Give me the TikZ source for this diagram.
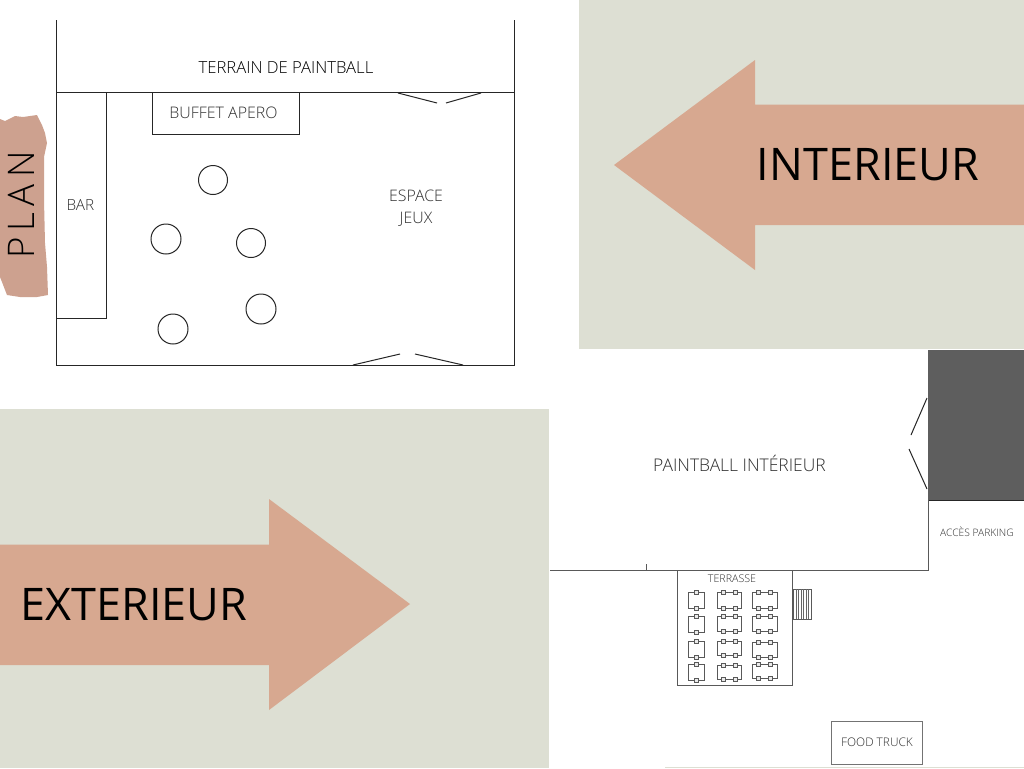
\documentclass[tikz,border=0pt]{standalone}
\usepackage{fontspec}
\setmainfont{Open Sans Light}
\newfontfamily\planfont[LetterSpace=17]{Open Sans Light}
\newfontfamily\bigfont{Open Sans}
\definecolor{sage}{HTML}{DDDFD3}
\definecolor{salmon}{HTML}{D7A890}
\definecolor{brush}{HTML}{CDA18F}
\definecolor{darkblock}{HTML}{5E5E5E}
\definecolor{inkgray}{HTML}{303030}
\tikzset{
  x=0.75pt,y=-0.75pt,
  wall/.style={draw=black!85,line width=0.75pt},
  thinwall/.style={draw=black!65,line width=0.6pt},
  lbl/.style={inner sep=0pt,text=inkgray},
  big/.style={inner sep=0pt,text=black},
  tablebox/.style={draw=black!65,line width=0.5pt,fill=white},
  chair/.style={draw=black!65,line width=0.45pt,fill=black!8},
}
\newcommand{\tabletwo}[4]{% x1 x2 y1 y2
  \draw[tablebox] (#1,#3) rectangle (#2,#4);
  \draw[chair] ({(#1+#2)/2-8},#3-2) rectangle ++(4,4);
  \draw[chair] ({(#1+#2)/2+4},#3-2) rectangle ++(4,4);
  \draw[chair] ({(#1+#2)/2-8},#4-2) rectangle ++(4,4);
  \draw[chair] ({(#1+#2)/2+4},#4-2) rectangle ++(4,4);
}
\newcommand{\tableone}[4]{%
  \draw[tablebox] (#1,#3) rectangle (#2,#4);
  \draw[chair] ({(#1+#2)/2-2},#3-2) rectangle ++(4,4);
  \draw[chair] ({(#1+#2)/2-2},#4-2) rectangle ++(4,4);
}
\begin{document}
\begin{tikzpicture}
\useasboundingbox (0,0) rectangle (1024,768);
\fill[white] (0,0) rectangle (1024,768);
% green panels
\fill[sage] (579,0) rectangle (1024,349);
\fill[sage] (0,409) rectangle (548.5,768);
\fill[sage] (665,767) rectangle (1024,768);
% arrows
\fill[salmon] (614,165) -- (755,60) -- (755,104.5) -- (1024,104.5) -- (1024,225) -- (755,225) -- (755,270) -- cycle;
\fill[salmon] (0,544.5) -- (269,544.5) -- (269,499) -- (410,604) -- (269,710) -- (269,665) -- (0,665) -- cycle;
\node[big,font=\bigfont\fontsize{33.7}{33.7}\selectfont] (interieur) at (868,165) {INTERIEUR};
\node[big,font=\bigfont\fontsize{33.7}{33.7}\selectfont] (exterieur) at (134,605) {EXTERIEUR};
% plan brush
\fill[brush] (0,119) -- (5,121) -- (15,116) -- (23,117) -- (37,115) -- (42,125) -- (45,133) -- (47,143) -- (44,157) -- (44,200) -- (45,243) -- (47,267) -- (48,295) -- (37,297) -- (20,297) -- (7,295) -- (2,282) -- (0,277) -- cycle;
\node[big,rotate=90,font=\planfont\fontsize{27.5}{27.5}\selectfont] (plan) at (21,205) {PLAN};
% plan walls
\draw[wall] (56,20) -- (56,365) -- (514,365) -- (514,20);
\draw[wall] (56,92) -- (514,92);
\draw[wall] (56,92) rectangle (106,318);
\draw[wall] (152,92) rectangle (299,134);
\foreach \cx/\cy/\r [count=\i] in {213/180/14.5,166/239/15,251/243/14.5,261/309/15,173/329/15}
  \draw[wall] (\cx,\cy) circle (\r);
\draw[wall] (398,93) -- (437,103);
\draw[wall] (481,93) -- (446,103);
\draw[wall] (353,365) -- (400,354);
\draw[wall] (415,354) -- (463,365);
\node[lbl,text=black,font=\fontsize{12.5}{12.5}\selectfont] (terrain) at (286,67.5) {TERRAIN DE PAINTBALL};
\node[lbl,font=\fontsize{11.95}{11.95}\selectfont] (buffet) at (223.5,113) {BUFFET APERO};
\node[lbl,font=\fontsize{11.5}{11.5}\selectfont] (bar) at (80.5,205) {BAR};
\node[lbl,align=center,font=\fontsize{11.9}{16.5}\selectfont] (jeux) at (416,208) {ESPACE\\JEUX};
% paintball interieur
\fill[darkblock] (928,350) rectangle (1024,500);
\draw[wall] (928,500) -- (1024,500);
\draw[thinwall] (550,570) -- (928,570) -- (928,500);
\draw[thinwall] (646,564) -- (646,570);
\draw[wall] (927,398) -- (911,435);
\draw[wall] (909,449) -- (927,489);
\node[lbl,font=\fontsize{13.1}{13.1}\selectfont] (paintball) at (739.5,463) {PAINTBALL INTÉRIEUR};
\node[lbl,font=\fontsize{7.7}{7.7}\selectfont] (parking) at (977,531.5) {ACCÈS PARKING};
% terrasse
\draw[thinwall] (677,570) -- (677,685) -- (792,685) -- (792,570);
\node[lbl,font=\fontsize{8}{8}\selectfont] (terrasse) at (732,579) {TERRASSE};
\tableone{688}{704}{592}{608}
\tableone{688}{704}{616}{632}
\tableone{688}{704}{641}{657}
\tableone{688}{704}{664}{680}
\tabletwo{717}{741.5}{592}{608}
\tabletwo{717}{741.5}{616}{631}
\tabletwo{717}{741.5}{641}{655}
\tabletwo{717}{741.5}{665}{679}
\tabletwo{752.5}{777}{592}{608}
\tabletwo{752.5}{777}{616}{631}
\tabletwo{752.5}{777}{642}{657}
\tabletwo{752.5}{777}{664}{678}
% stairs
\draw[thinwall,fill=white] (793,589) rectangle (811,619);
\foreach \x in {796,798.5,801,803.5,806,808.5}
  \draw[draw=black!60,line width=0.4pt] (\x,589) -- (\x,619);
% food truck
\draw[draw=black!55,line width=0.7pt] (831,721) rectangle (922,764);
\node[lbl,font=\fontsize{8.9}{8.9}\selectfont] (food) at (877,742) {FOOD TRUCK};
\end{tikzpicture}
\end{document}
